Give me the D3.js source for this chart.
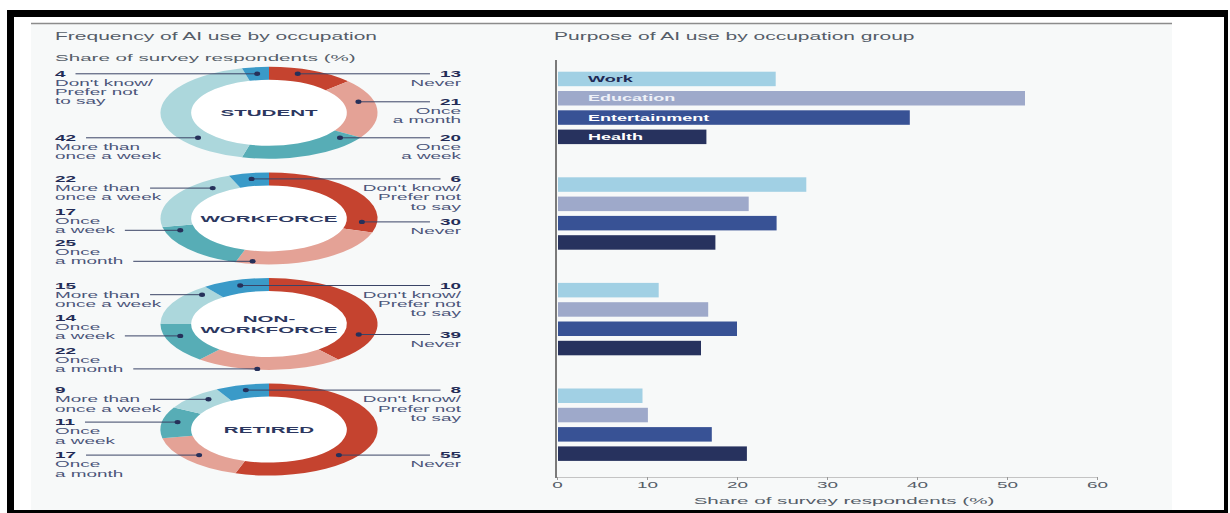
<!DOCTYPE html>
<html>
<head>
<meta charset="utf-8">
<script src="https://cdn.jsdelivr.net/npm/d3@7"></script>
<style>
  html, body { margin: 0; padding: 0; background: #ffffff; }
  svg { display: block; font-family: "Liberation Sans", Arial, sans-serif; }
</style>
</head>
<body>
<svg id="chart" width="1230" height="513"></svg>
<script>
// ---------- data ----------
const occupations = ["Student", "Workforce", "Non-workforce", "Retired"];
const occupationTitles = [["STUDENT"], ["WORKFORCE"], ["NON-", "WORKFORCE"], ["RETIRED"]];

const frequencyKeys = ["Never", "Once a month", "Once a week", "More than once a week", "Don't know/Prefer not to say"];
const frequencyLines = [["Never"], ["Once", "a month"], ["Once", "a week"], ["More than", "once a week"], ["Don't know/", "Prefer not", "to say"]];
const studentFreq = [13, 21, 20, 42, 4];
const workforceFreq = [30, 25, 17, 22, 6];
const nonWorkforceFreq = [39, 22, 14, 15, 10];
const retiredFreq = [55, 17, 11, 9, 8];

const purposes = ["Work", "Education", "Entertainment", "Health"];
const workShare = [24.3, 27.7, 11.3, 9.5];
const educationShare = [52.0, 21.3, 16.8, 10.1];
const entertainmentShare = [39.2, 24.4, 20.0, 17.2];
const healthShare = [16.6, 17.6, 16.0, 21.1];
const xTicks = [0, 10, 20, 30, 40, 50, 60];

// ---------- styling / layout ----------
const freqColors = ["#c5432f", "#e4a296", "#57adb6", "#acd7dc", "#3a9ac8"];
const purposeColors = ["#a1d0e4", "#9ea9ca", "#385295", "#27325e"];
const purposeLabelColors = ["#1f2a55", "#eef1f8", "#ffffff", "#ffffff"];

// label placement for each donut slice: side, vertical offset of the value from the
// donut centre, and which text row the leader line attaches to
const labelLayout = [
  [["r", -39, 0], ["r", -11, 0], ["r", 25, 0], ["l", 25, 0], ["l", -39, 0]],
  [["r", 3.5, 0], ["l", 24.5, 2], ["l", -6.5, 2], ["l", -39.5, 1], ["r", -39.5, 0]],
  [["r", 10.5, 0], ["l", 26.5, 2], ["l", -6.5, 2], ["l", -38.5, 1], ["r", -38.5, 0]],
  [["r", 25.5, 0], ["l", 25.5, 0], ["l", -7.5, 0], ["l", -39.5, 1], ["r", -39.5, 0]]
];

const SX = 2.1;          // horizontal text stretch
const DONUT_SX = 2.36;   // horizontal donut stretch
const R_OUT = 46, R_IN = 33;
const DONUT_CX = 269;
const LEFT_X = 55, RIGHT_X = 461;
const LINE_H = 9.2;

const svg = d3.select("#chart");

// frame and panel
svg.append("rect").attr("x", 7).attr("y", 10).attr("width", 1221).attr("height", 503).attr("fill", "#000");
svg.append("rect").attr("x", 14).attr("y", 17).attr("width", 1210).attr("height", 493).attr("fill", "#fff");
svg.append("rect").attr("x", 31).attr("y", 23).attr("width", 1141).attr("height", 487).attr("fill", "#f7f9f9");
svg.append("line").attr("x1", 31).attr("x2", 1172).attr("y1", 23.5).attr("y2", 23.5)
  .attr("stroke", "#8c8c8c").attr("stroke-width", 1.6);

function sText(parent, x, y, str, o = {}) {
  return parent.append("text")
    .attr("transform", `translate(${x},${y}) scale(${SX},1)`)
    .attr("text-anchor", o.anchor || "start")
    .attr("dominant-baseline", "central")
    .attr("font-size", o.size || 9)
    .attr("font-weight", o.weight || "normal")
    .attr("fill", o.fill || "#4b5579")
    .text(str);
}

// titles
sText(svg, 55, 36, "Frequency of AI use by occupation", { size: 10, fill: "#555d68" });
sText(svg, 55, 57, "Share of survey respondents (%)", { size: 9.8, fill: "#555d68" });
sText(svg, 554, 36, "Purpose of AI use by occupation group", { size: 10, fill: "#555d68" });

// shared vertical layout
const yGroup = d3.scaleBand().domain(occupations).range([62, 62 + 4 * 105.6]);
const yBar = d3.scaleBand().domain(purposes).range([9.7, 82.1]).paddingInner(0.249);

// ---------- donuts ----------
const freqSeries = [studentFreq, workforceFreq, nonWorkforceFreq, retiredFreq];
const pie = d3.pie().sort(null).startAngle(0).endAngle(2 * Math.PI);
const arc = d3.arc().innerRadius(R_IN).outerRadius(R_OUT);

// horizontal position where a label row crosses the middle of its slice
function anchorOnRing(d, dy, side) {
  let lo = null, hi = null;
  for (let t = 0; t <= R_OUT; t += 0.05) {
    const dx = side * t;
    const r = Math.hypot(dx, dy);
    if (r < R_IN || r > R_OUT) continue;
    let a = Math.atan2(dx, -dy);
    if (a < 0) a += 2 * Math.PI;
    if (a < d.startAngle || a > d.endAngle) continue;
    if (lo === null || dx < lo) lo = dx;
    if (hi === null || dx > hi) hi = dx;
  }
  if (lo === null) {
    const m = (d.startAngle + d.endAngle) / 2;
    return [Math.sin(m) * (R_IN + R_OUT) / 2, -Math.cos(m) * (R_IN + R_OUT) / 2];
  }
  return [(lo + hi) / 2, dy];
}

occupations.forEach((occ, i) => {
  const cy = yGroup(occ) + 50.8;
  const arcs = pie(freqSeries[i]);
  const g = svg.append("g").attr("transform", `translate(${DONUT_CX},${cy}) scale(${DONUT_SX},1)`);
  g.append("circle").attr("r", R_IN).attr("fill", "#ffffff");
  g.selectAll("path").data(arcs).join("path")
    .attr("d", arc).attr("fill", (d, k) => freqColors[k]);

  // centre title
  const t = occupationTitles[i];
  t.forEach((line, k) => {
    sText(svg, DONUT_CX, cy + (k - (t.length - 1) / 2) * 10.5, line,
      { anchor: "middle", size: 9.8, weight: "bold", fill: "#2c3760" });
  });

  // labels with leader lines
  const lg = svg.append("g");
  arcs.forEach((d, k) => {
    const [side, off, row] = labelLayout[i][k];
    const isLeft = side === "l";
    const x0 = isLeft ? LEFT_X : RIGHT_X;
    const anchor = isLeft ? "start" : "end";
    const numY = cy + off;
    const rows = [String(freqSeries[i][k])].concat(frequencyLines[k]);
    const nodes = rows.map((str, r) => sText(lg, x0, numY + r * LINE_H, str, {
      anchor, size: 9, weight: r === 0 ? "bold" : "normal", fill: r === 0 ? "#232c57" : "#4b5579"
    }));
    const rowY = numY + row * LINE_H;
    const w = nodes[row].node().getComputedTextLength() * SX;
    const [dx] = anchorOnRing(d, rowY - cy, isLeft ? -1 : 1);
    const dotX = DONUT_CX + dx * DONUT_SX;
    const gap = 10;
    const lineX = isLeft ? x0 + w + gap : x0 - w - gap;
    lg.append("line").attr("x1", lineX).attr("x2", dotX).attr("y1", rowY).attr("y2", rowY)
      .attr("stroke", "#3a4466").attr("stroke-width", 1);
    lg.append("ellipse").attr("cx", dotX).attr("cy", rowY).attr("rx", 3).attr("ry", 2.2)
      .attr("fill", "#26305a");
  });
});

// ---------- bars ----------
const x = d3.scaleLinear().domain([0, 60]).range([557, 1097]);
const shareSeries = [workShare, educationShare, entertainmentShare, healthShare];

occupations.forEach((occ, i) => {
  const g = svg.append("g").attr("transform", `translate(0,${yGroup(occ)})`);
  const rows = purposes.map((p, j) => ({ p, j, v: shareSeries[j][i] }));
  g.selectAll("rect").data(rows).join("rect")
    .attr("x", x(0) + 1)
    .attr("y", d => yBar(d.p))
    .attr("width", d => x(d.v) - x(0) - 1)
    .attr("height", yBar.bandwidth())
    .attr("fill", d => purposeColors[d.j]);
  if (i === 0) {
    rows.forEach(d => {
      sText(g, x(0) + 31, yBar(d.p) + yBar.bandwidth() / 2, d.p,
        { size: 8.6, weight: "bold", fill: purposeLabelColors[d.j] });
    });
  }
});

// axes
svg.append("line").attr("x1", x(0) - 1).attr("x2", x(0) - 1).attr("y1", 60).attr("y2", 478)
  .attr("stroke", "#7a7a7a").attr("stroke-width", 2);

const axis = svg.append("g").attr("transform", "translate(0,477)")
  .call(d3.axisBottom(x).tickValues(xTicks).tickSize(3).tickSizeOuter(0));
axis.select(".domain").attr("stroke", "#c4c4c4");
axis.selectAll(".tick line").attr("stroke", "#9a9a9a");
axis.selectAll(".tick text")
  .attr("y", 8).attr("dy", null)
  .attr("dominant-baseline", "central")
  .attr("transform", `scale(${SX},1)`)
  .attr("font-size", 9).attr("font-family", "Liberation Sans, Arial, sans-serif")
  .attr("fill", "#555d68");

sText(svg, (x.range()[0] + x.range()[1]) / 2 + 17, 500, "Share of survey respondents (%)",
  { anchor: "middle", size: 9.8, fill: "#555d68" });
</script>
</body>
</html>
